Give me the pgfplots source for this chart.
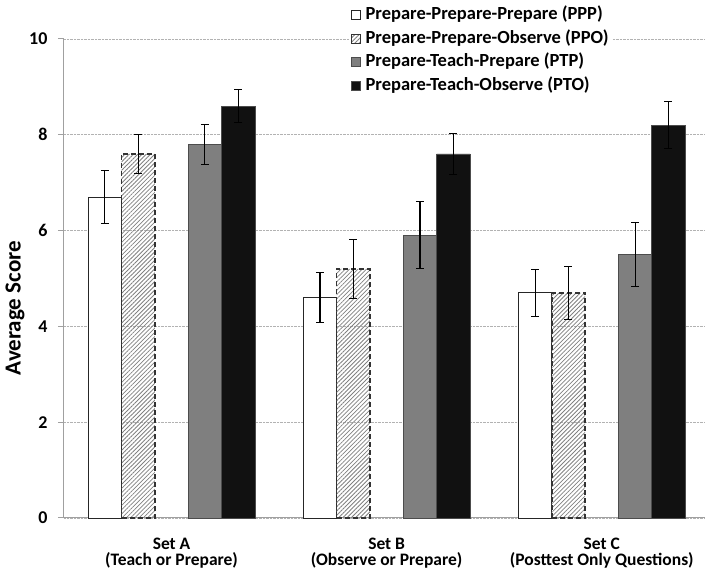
\documentclass[border=0pt]{standalone}
\usepackage{pgfplots}
\pgfplotsset{compat=1.18}
\usepackage{fontspec}
\setmainfont{Carlito}
\usetikzlibrary{patterns.meta}
\definecolor{axgray}{HTML}{A0A0A0}
\definecolor{bargray}{HTML}{7F7F7F}
\definecolor{barblack}{HTML}{111111}
\begin{document}
\begin{tikzpicture}
\path[use as bounding box] (-64pt,-54pt) rectangle (641pt,518pt);
\begin{axis}[
  scale only axis,
  width=641pt, height=479pt,
  xmin=-0.5, xmax=2.48,
  ymin=0, ymax=10,
  clip=false,
  axis x line*=bottom, axis y line*=left,
  axis line style={axgray, line width=1pt, -},
  ytick={0,2,...,10},
  ymajorgrids,
  grid style={densely dotted, gray!60, line width=0.6pt},
  tick align=outside,
  major tick length=6pt,
  tick style={axgray, line width=1pt},
  /pgf/number format/assume math mode=true,
  yticklabel style={font=\fontsize{18}{20}\selectfont\bfseries, xshift=-7pt},
  xtick={0,1,2},
  xticklabels={{Set A\\(Teach or Prepare)},{Set B\\(Observe or Prepare)},{Set C\\(Posttest Only Questions)}},
  xticklabel style={align=center, font=\fontsize{17.5}{16.5}\selectfont\bfseries, yshift=-10pt},
  x tick style={draw=none},
  extra x ticks={-0.5,0.5,1.5},
  extra x tick labels={},
  extra x tick style={tick style={axgray, line width=1pt, draw=axgray}, major tick length=6pt},
  every axis y label/.style={at={(axis description cs:0,0.438)}, xshift=-49pt, rotate=90, anchor=center, font=\fontsize{23}{26}\selectfont\bfseries},
  ylabel={Average Score},
  ybar, bar shift=0pt, bar width=0.155,
  legend image code/.code={\draw[#1,solid,line width=0.8pt] (0pt,-4.5pt) rectangle (9pt,4.5pt);\path (12pt,0pt);},
  legend style={at={(0.444,1.077)}, anchor=north west, draw=none, fill=white,
    font=\fontsize{18.5}{22}\selectfont\bfseries, row sep=1.5pt, inner sep=2pt,
    nodes={inner sep=1.5pt, text height=14pt, text depth=5pt}},
  legend cell align=left,
  error bars/error bar style={black, line width=1.1pt},
  error bars/error mark options={rotate=90, mark size=4pt, line width=1.1pt, black},
]
\addplot[fill=white, draw=black!85, line width=0.8pt,
  error bars/.cd, y dir=both, y explicit]
  coordinates {(-0.31,6.7) +- (0,0.55) (0.69,4.6) +- (0,0.52) (1.69,4.7) +- (0,0.49)};
\addlegendentry{Prepare-Prepare-Prepare (PPP)}
\addplot[pattern={Lines[angle=45, distance=3pt, line width=0.8pt]}, pattern color=gray,
  draw=black!80, dash pattern=on 5pt off 3pt, line width=1.7pt,
  error bars/.cd, y dir=both, y explicit, error bar style={solid}]
  coordinates {(-0.155,7.6) +- (0,0.4) (0.845,5.2) +- (0,0.62) (1.845,4.7) +- (0,0.55)};
\addlegendentry{Prepare-Prepare-Observe (PPO)}
\addplot[fill=bargray, draw=black!70, line width=0.8pt,
  error bars/.cd, y dir=both, y explicit]
  coordinates {(0.155,7.8) +- (0,0.42) (1.155,5.9) +- (0,0.7) (2.155,5.5) +- (0,0.67)};
\addlegendentry{Prepare-Teach-Prepare (PTP)}
\addplot[fill=barblack, draw=black!70, line width=0.8pt,
  error bars/.cd, y dir=both, y explicit]
  coordinates {(0.31,8.6) +- (0,0.35) (1.31,7.6) +- (0,0.42) (2.31,8.2) +- (0,0.49)};
\addlegendentry{Prepare-Teach-Observe (PTO)}
\end{axis}
\end{tikzpicture}
\end{document}
